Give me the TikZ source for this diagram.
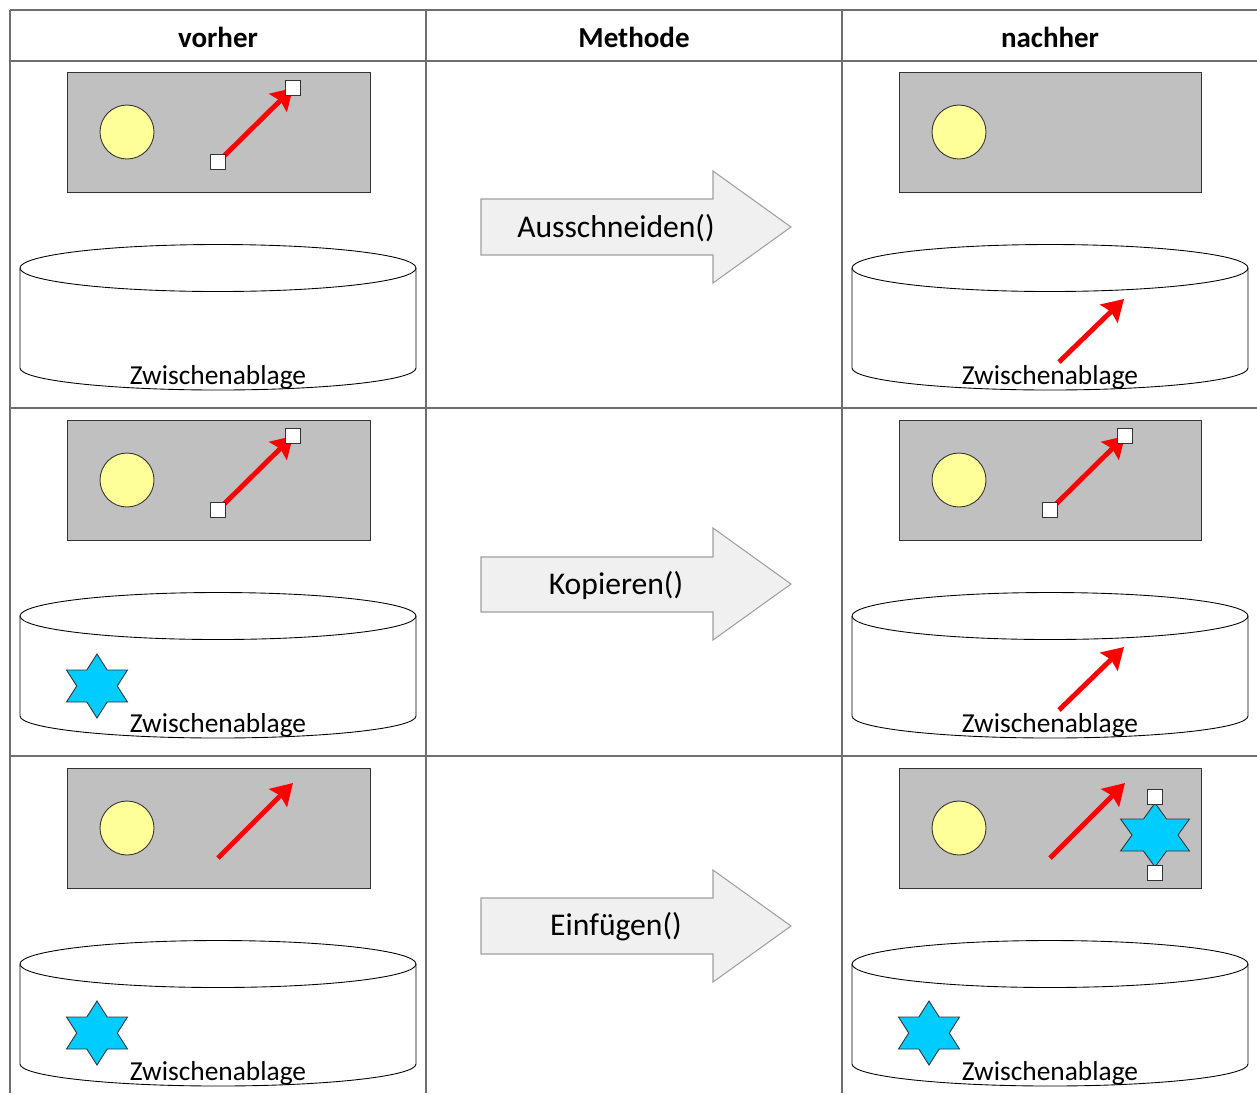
\documentclass[tikz,border=0pt]{standalone}
\usepackage{fontspec}
\setmainfont{Carlito}
\usetikzlibrary{arrows.meta}
\definecolor{boardgray}{HTML}{C0C0C0}
\definecolor{sunyellow}{HTML}{FFFF99}
\definecolor{starblue}{HTML}{00CCFF}
\definecolor{methodfill}{HTML}{F0F0F0}
\definecolor{methodline}{HTML}{A0A0A0}
\definecolor{gridline}{HTML}{6E6E6E}

\begin{document}
\begin{tikzpicture}[x=0.02cm, y=-0.02cm,
  grid/.style={draw=gridline, line width=0.8pt},
  board/.style={draw=black!80, fill=boardgray, line width=0.5pt},
  sun/.style={circle, draw=black!80, fill=sunyellow, minimum size=1.08cm, inner sep=0pt, line width=0.5pt},
  redline/.style={red, line width=2.8pt, -{Stealth[length=0.42cm, width=0.5cm, inset=0.06cm]}},
  handle/.style={draw=black!80, fill=white, minimum size=0.31cm, inner sep=0pt, line width=0.5pt},
  header/.style={font=\fontsize{16.5}{20}\selectfont\bfseries},
  cliplabel/.style={font=\fontsize{15.6}{18}\selectfont, anchor=base, inner sep=0pt},
  method/.style={draw=methodline, fill=methodfill, line width=0.6pt},
  methodlabel/.style={font=\fontsize{18}{22}\selectfont},
  hexstar/.pic={
    \draw[draw=black!80, fill=starblue, line width=0.5pt] (0,-32) -- (10.2,-16) -- (30.5,-16) -- (20.3,0) -- (30.5,16) -- (10.2,16) -- (0,32) -- (-10.2,16) -- (-30.5,16) -- (-20.3,0) -- (-30.5,-16) -- (-10.2,-16) -- cycle;
  },
  clipboard/.pic={
    \draw[fill=white, line width=0.5pt] (-198,0) -- (-198,100) arc[start angle=180, end angle=0, x radius=198, y radius=22] -- (198,0);
    \draw[fill=white, line width=0.5pt] (0,0) ellipse[x radius=198, y radius=23.5];
    \node[cliplabel] (-label) at (0,116) {Zwischenablage};
  }
]
\useasboundingbox (0,0) rectangle (1257,1093);

% table
\draw[grid] (10,10) -- (1257,10);
\draw[grid] (10,61) -- (1257,61);
\draw[grid] (10,408) -- (1257,408);
\draw[grid] (10,756) -- (1257,756);
\draw[grid] (10,10) -- (10,1093);
\draw[grid] (426,10) -- (426,1093);
\draw[grid] (842,10) -- (842,1093);

\node[header] (vorher) at (218,37) {vorher};
\node[header] (methode) at (634,37) {Methode};
\node[header] (nachher) at (1050,37) {nachher};

% methods
\draw[method] (481,199) -- (713,199) -- (713,171) -- (791,227) -- (713,283) -- (713,255) -- (481,255) -- cycle;
\node[methodlabel] (cut) at (616,228) {Ausschneiden()};
\draw[method] (481,557) -- (713,557) -- (713,528) -- (791,584) -- (713,640) -- (713,612) -- (481,612) -- cycle;
\node[methodlabel] (copy) at (616,585) {Kopieren()};
\draw[method] (481,898) -- (713,898) -- (713,870) -- (791,926) -- (713,982) -- (713,954) -- (481,954) -- cycle;
\node[methodlabel] (paste) at (616,927) {Einfügen()};

% row 1: Ausschneiden
\draw[board] (67,72) rectangle (370,192);
\node[sun] (sunA1) at (127,132) {};
\coordinate (tailA1) at (218,162);
\coordinate (tipA1) at (293,88);
\draw[redline] (tailA1) -- (tipA1);
\node[handle] (hA1a) at (tailA1) {};
\node[handle] (hA1b) at (tipA1) {};
\pic (clipA1) at (218,268) {clipboard};

\draw[board] (899,72) rectangle (1201,192);
\node[sun] (sunB1) at (959,132) {};
\pic (clipB1) at (1050,268) {clipboard};
\coordinate (tailB1) at (1059,362);
\coordinate (tipB1) at (1124,299);
\draw[redline] (tailB1) -- (tipB1);

% row 2: Kopieren
\draw[board] (67,420) rectangle (370,540);
\node[sun] (sunA2) at (127,480) {};
\coordinate (tailA2) at (218,510);
\coordinate (tipA2) at (293,436);
\draw[redline] (tailA2) -- (tipA2);
\node[handle] (hA2a) at (tailA2) {};
\node[handle] (hA2b) at (tipA2) {};
\pic (clipA2) at (218,616) {clipboard};
\pic (starA2) at (97,686) {hexstar};

\draw[board] (899,420) rectangle (1201,540);
\node[sun] (sunB2) at (959,480) {};
\coordinate (tailB2) at (1050,510);
\coordinate (tipB2) at (1125,436);
\draw[redline] (tailB2) -- (tipB2);
\node[handle] (hB2a) at (tailB2) {};
\node[handle] (hB2b) at (tipB2) {};
\pic (clipB2) at (1050,616) {clipboard};
\coordinate (tailB2c) at (1059,710);
\coordinate (tipB2c) at (1124,647);
\draw[redline] (tailB2c) -- (tipB2c);

% row 3: Einfuegen
\draw[board] (67,768) rectangle (370,888);
\node[sun] (sunA3) at (127,828) {};
\coordinate (tailA3) at (218,858);
\coordinate (tipA3) at (293,783);
\draw[redline] (tailA3) -- (tipA3);
\pic (clipA3) at (218,964) {clipboard};
\pic (starA3) at (97,1033) {hexstar};

\draw[board] (899,768) rectangle (1201,888);
\node[sun] (sunB3) at (959,828) {};
\coordinate (tailB3) at (1050,858);
\coordinate (tipB3) at (1125,783);
\draw[redline] (tailB3) -- (tipB3);
\pic[xscale=1.13] (starB3) at (1155,835) {hexstar};
\node[handle] (hB3a) at (1155,797) {};
\node[handle] (hB3b) at (1155,873) {};
\pic (clipB3) at (1050,964) {clipboard};
\pic (starB3c) at (929,1033) {hexstar};

\end{tikzpicture}
\end{document}
